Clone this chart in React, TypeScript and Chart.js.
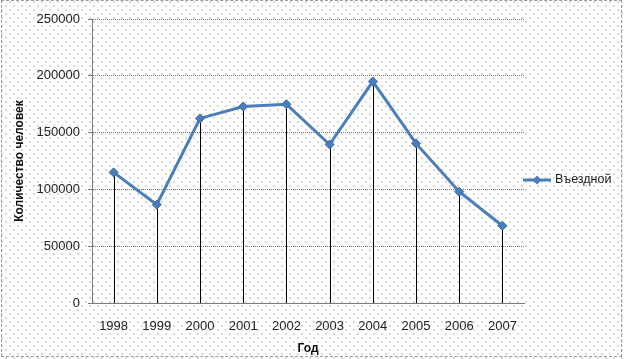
import React, { useEffect, useRef } from "react";
import { Chart, registerables } from "chart.js";

Chart.register(...registerables);

const years = ["1998", "1999", "2000", "2001", "2002", "2003", "2004", "2005", "2006", "2007"];
const arrivals = [115000, 86500, 162500, 173000, 175000, 139500, 195000, 140500, 98000, 68000];
const seriesLabel = "Въездной";
const yTitle = "Количество человек";
const xTitle = "Год";
const yMin = 0;
const yMax = 250000;
const yStep = 50000;

const BLUE = "#4a7ebb";
const FONT = "Liberation Sans";
const GRID = "#7a7a7a";

const dropLines = {
  id: "dropLines",
  beforeDatasetsDraw(chart: any) {
    const { ctx } = chart;
    const yScale = chart.scales.y;
    const base = yScale.getPixelForValue(0);
    const meta = chart.getDatasetMeta(0);
    ctx.save();
    ctx.strokeStyle = "#000";
    ctx.lineWidth = 1;
    meta.data.forEach((pt: any) => {
      const x = Math.round(pt.x) + 0.5;
      ctx.beginPath();
      ctx.moveTo(x, pt.y);
      ctx.lineTo(x, base);
      ctx.stroke();
    });
    ctx.restore();
  },
};

const sideLegend = {
  id: "sideLegend",
  afterDraw(chart: any) {
    const { ctx, chartArea } = chart;
    const y = (chartArea.top + chartArea.bottom) / 2 + 19;
    const x0 = chartArea.right - 1;
    ctx.save();
    ctx.strokeStyle = BLUE;
    ctx.lineWidth = 3;
    ctx.beginPath();
    ctx.moveTo(x0, y);
    ctx.lineTo(x0 + 28, y);
    ctx.stroke();
    const cx = x0 + 14;
    ctx.fillStyle = BLUE;
    ctx.beginPath();
    ctx.moveTo(cx, y - 4.5);
    ctx.lineTo(cx + 4.5, y);
    ctx.lineTo(cx, y + 4.5);
    ctx.lineTo(cx - 4.5, y);
    ctx.closePath();
    ctx.fill();
    ctx.fillStyle = "#222";
    ctx.font = `12.5px "${FONT}"`;
    ctx.textBaseline = "middle";
    ctx.textAlign = "left";
    ctx.fillText(chart.data.datasets[0].label, x0 + 32, y);
    ctx.restore();
  },
};

export default function App() {
  const ref = useRef<HTMLCanvasElement | null>(null);

  useEffect(() => {
    if (!ref.current) return;
    const chart = new Chart(ref.current, {
      type: "line",
      data: {
        labels: years,
        datasets: [
          {
            label: seriesLabel,
            data: arrivals,
            borderColor: BLUE,
            backgroundColor: BLUE,
            borderWidth: 3,
            pointStyle: "rectRot",
            pointRadius: 4.5,
            pointBackgroundColor: BLUE,
            pointBorderColor: "#3a69a6",
            pointBorderWidth: 1,
            tension: 0,
          },
        ],
      },
      options: {
        animation: false,
        responsive: false,
        devicePixelRatio: 1,
        layout: { padding: { left: 0, right: 100, top: 19, bottom: 0 } },
        plugins: {
          legend: { display: false },
          tooltip: { enabled: false },
        },
        scales: {
          x: {
            offset: true,
            grid: { display: false, drawTicks: false },
            border: { display: true, color: GRID, dash: [1, 1], width: 1 },
            ticks: {
              color: "#222",
              font: { family: FONT, size: 13 },
              padding: 16,
              maxRotation: 0,
            },
            title: {
              display: true,
              text: xTitle,
              color: "#111",
              font: { family: FONT, size: 12, weight: "bold" },
              padding: { top: 0, bottom: 3 },
            },
            afterFit(scale: any) {
              scale.height = 56;
            },
          },
          y: {
            min: yMin,
            max: yMax,
            grid: {
              color: GRID,
              tickLength: 4,
              drawTicks: true,
              tickColor: GRID,
            },
            border: { display: true, color: GRID, dash: [1, 1], width: 1 },
            ticks: {
              stepSize: yStep,
              color: "#222",
              font: { family: FONT, size: 13 },
              padding: 8,
              callback: (v: any) => String(v),
            },
            title: {
              display: true,
              text: yTitle,
              color: "#111",
              font: { family: FONT, size: 12, weight: "bold" },
              padding: { top: 12.5, bottom: 0 },
            },
            afterFit(scale: any) {
              scale.width = 92;
            },
          },
        },
      },
      plugins: [dropLines, sideLegend],
    } as any);
    return () => chart.destroy();
  }, []);

  return (
    <div
      style={{
        position: "fixed",
        left: 0,
        top: 0,
        width: 624,
        height: 359,
        backgroundColor: "#fff",
        backgroundImage:
          "radial-gradient(circle, #c4c4c4 0.6px, transparent 0.9px), radial-gradient(circle, #c4c4c4 0.6px, transparent 0.9px)",
        backgroundSize: "8px 8px, 8px 8px",
        backgroundPosition: "2px 2px, 6px 6px",
      }}
    >
      <div
        style={{
          position: "absolute",
          left: 1,
          top: 0,
          width: 621,
          height: 357,
          border: "1px dashed #9a9a9a",
          boxSizing: "border-box",
        }}
      />
      <canvas
        ref={ref}
        width={624}
        height={359}
        style={{ position: "absolute", left: 0, top: 0, width: 624, height: 359 }}
      />
    </div>
  );
}
